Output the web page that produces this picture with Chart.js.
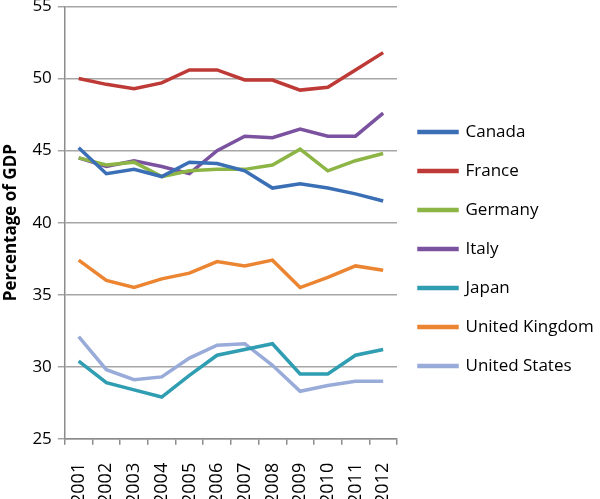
<!DOCTYPE html>
<html>
<head>
<meta charset="utf-8">
<script src="https://cdn.jsdelivr.net/npm/chart.js@4.4.0/dist/chart.umd.min.js"></script>
<style>
  html, body { margin: 0; padding: 0; background: #fff; overflow: hidden; }
  #wrap { width: 600px; height: 504px; margin-top: -5px; }
</style>
</head>
<body>
<div id="wrap"><canvas id="chart"></canvas></div>
<script>
  const years = ['2001', '2002', '2003', '2004', '2005', '2006', '2007', '2008', '2009', '2010', '2011', '2012'];

  const canada  = [45.2, 43.4, 43.7, 43.2, 44.2, 44.1, 43.6, 42.4, 42.7, 42.4, 42.0, 41.5];
  const france  = [50.0, 49.6, 49.3, 49.7, 50.6, 50.6, 49.9, 49.9, 49.2, 49.4, 50.6, 51.8];
  const germany = [44.5, 44.0, 44.2, 43.2, 43.6, 43.7, 43.7, 44.0, 45.1, 43.6, 44.3, 44.8];
  const italy   = [44.5, 43.9, 44.3, 43.9, 43.4, 45.0, 46.0, 45.9, 46.5, 46.0, 46.0, 47.6];
  const japan   = [30.4, 28.9, 28.4, 27.9, 29.4, 30.8, 31.2, 31.6, 29.5, 29.5, 30.8, 31.2];
  const uk      = [37.4, 36.0, 35.5, 36.1, 36.5, 37.3, 37.0, 37.4, 35.5, 36.2, 37.0, 36.7];
  const us      = [32.1, 29.8, 29.1, 29.3, 30.6, 31.5, 31.6, 30.1, 28.3, 28.7, 29.0, 29.0];

  const yTicks = [25, 30, 35, 40, 45, 50, 55];

  function series(label, data, color) {
    return {
      label: label,
      data: data,
      borderColor: color,
      backgroundColor: color,
      borderWidth: 3.5,
      pointRadius: 0,
      tension: 0
    };
  }

  const font = "'Open Sans', 'DejaVu Sans', sans-serif";

  // nudge the legend column up a little (the layout padding is negative)
  const legendShift = {
    id: 'legendShift',
    afterLayout: function (chart) {
      chart.legend.top -= 14;
    }
  };

  const config = {
    type: 'line',
    data: {
      labels: years,
      datasets: [
        series('Canada', canada, '#3a6fb5'),
        series('France', france, '#be3a36'),
        series('Germany', germany, '#8db546'),
        series('Italy', italy, '#7b529f'),
        series('Japan', japan, '#2f9db2'),
        series('United Kingdom', uk, '#ec8532'),
        series('United States', us, '#98abd9')
      ]
    },
    plugins: [legendShift],
    options: {
      responsive: true,
      maintainAspectRatio: false,
      animation: false,
      layout: { padding: { top: -5, right: 0, left: 0, bottom: -23 } },
      plugins: {
        legend: {
          position: 'right',
          maxWidth: 203,
          labels: {
            boxWidth: 38,
            boxHeight: 1,
            padding: 22,
            color: '#000',
            font: { family: font, size: 17 }
          }
        },
        tooltip: { enabled: false }
      },
      scales: {
        x: {
          offset: true,
          grid: {
            offset: true,
            drawOnChartArea: false,
            drawTicks: true,
            tickLength: 6,
            color: '#8c8c8c',
            lineWidth: 1.5
          },
          border: { color: '#8c8c8c', width: 1.5 },
          ticks: {
            minRotation: 90,
            maxRotation: 90,
            padding: 18,
            color: '#000',
            font: { family: font, size: 18 }
          }
        },
        y: {
          min: 25,
          max: 55,
          afterBuildTicks: function (axis) {
            axis.ticks = yTicks.map(function (v) { return { value: v }; });
          },
          grid: {
            color: '#a6a6a6',
            lineWidth: 1.5,
            drawTicks: true,
            tickLength: 7
          },
          border: { color: '#8c8c8c', width: 1.5 },
          title: {
            display: true,
            text: 'Percentage of GDP',
            color: '#000',
            font: { family: font, size: 17, weight: 'bold' },
            padding: { top: 1, bottom: 5 }
          },
          ticks: {
            color: '#000',
            padding: 6,
            font: { family: font, size: 17, lineHeight: 0.65 }
          }
        }
      }
    }
  };

  const chart = new Chart(document.getElementById('chart'), config);
</script>
</body>
</html>
